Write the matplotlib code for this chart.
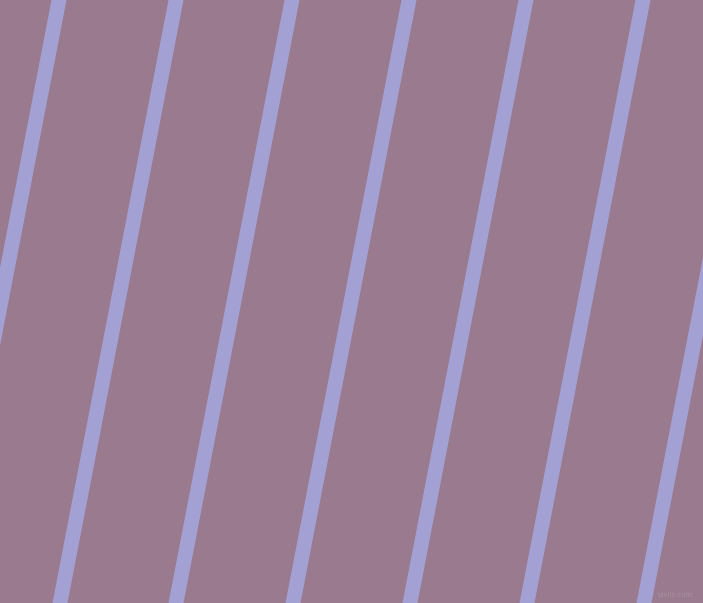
import matplotlib
matplotlib.use("Agg")
import matplotlib.pyplot as plt
import numpy as np

# Pattern data: x-positions of stripe centres along the top edge (pixels),
# horizontal drift per pixel down, stripe horizontal width
stripe_top_x = [-58, 59, 176, 292, 409, 526, 643, 760]
stripe_slope = 0.1924
stripe_width = 15
bg_color = "#9A7A8E"
stripe_color = "#A3A1D3"
width_px, height_px = 703, 603

fig = plt.figure(figsize=(width_px / 100, height_px / 100), dpi=100)
ax = fig.add_axes([0, 0, 1, 1])
ax.set_xlim(0, width_px)
ax.set_ylim(height_px, 0)
ax.axis("off")
fig.patch.set_facecolor(bg_color)
ax.set_facecolor(bg_color)

for x0 in stripe_top_x:
    x1 = x0 - stripe_slope * height_px
    xs = [x0 - stripe_width / 2, x0 + stripe_width / 2, x1 + stripe_width / 2, x1 - stripe_width / 2]
    ys = [0, 0, height_px, height_px]
    ax.fill(xs, ys, color=stripe_color, linewidth=0, antialiased=True)

ax.text(693, 595, "pixlis.com", ha="right", va="center", fontsize=5,
        color="#A991A2", family="DejaVu Sans")

fig.savefig("out.png", dpi=100, facecolor=bg_color)
